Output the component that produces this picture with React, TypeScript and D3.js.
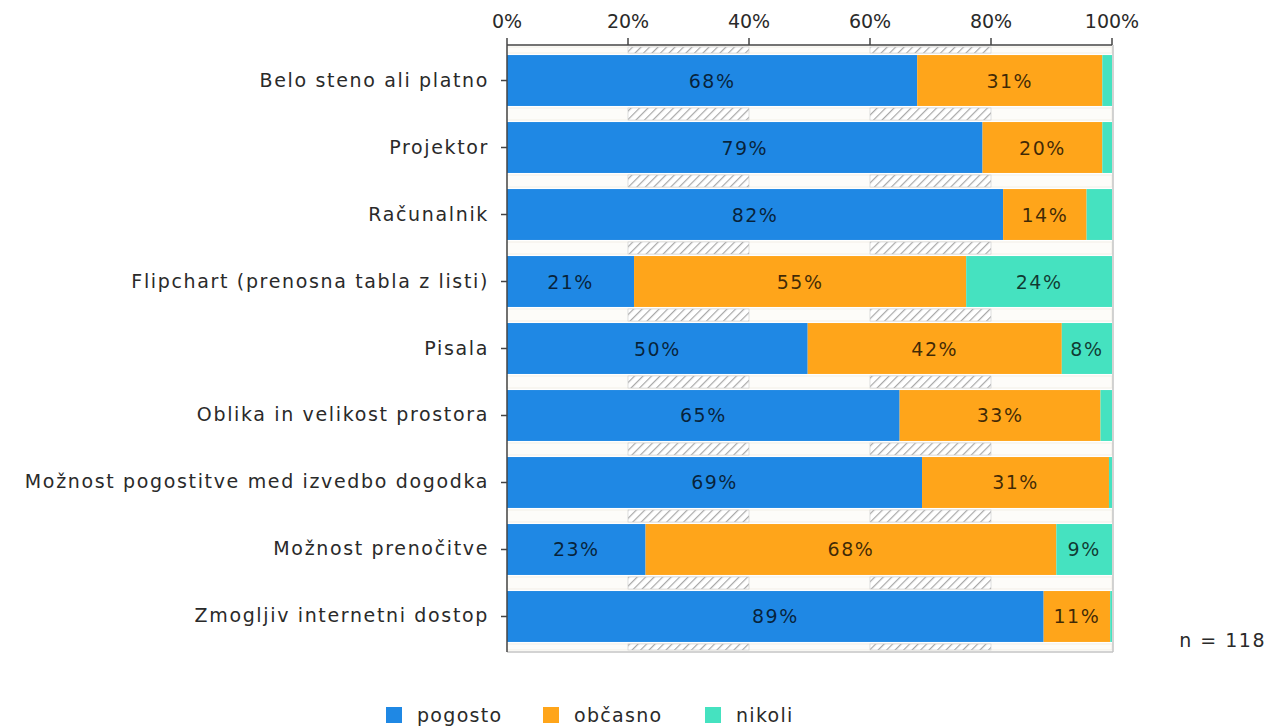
import { scaleBand, scaleLinear } from "d3";

// categories and the three answer series (percent of n = 118)
const categories = [
  "Belo steno ali platno",
  "Projektor",
  "Računalnik",
  "Flipchart (prenosna tabla z listi)",
  "Pisala",
  "Oblika in velikost prostora",
  "Možnost pogostitve med izvedbo dogodka",
  "Možnost prenočitve",
  "Zmogljiv internetni dostop",
];
const pogosto = [67.8, 78.6, 82.0, 21.0, 49.7, 64.9, 68.6, 22.9, 88.7];
const obcasno = [30.6, 19.8, 13.8, 54.9, 42.0, 33.2, 30.9, 67.9, 11.0];
const nikoli = [1.6, 1.6, 4.2, 24.1, 8.3, 1.9, 0.5, 9.2, 0.3];

const seriesNames = ["pogosto", "občasno", "nikoli"];
const seriesColors = ["#1f88e4", "#ffa51a", "#45e2c0"];
const ticks = [0, 20, 40, 60, 80, 100];
const hatchBands = [
  [20, 40],
  [60, 80],
];

const FONT = "'DejaVu Sans', Verdana, sans-serif";

export default function App() {
  const left = 507;
  const right = 1112;
  const top = 45;
  const bottom = 652;

  const x = scaleLinear().domain([0, 100]).range([left, right]);
  const y = scaleBand()
    .domain(categories)
    .range([top, bottom])
    .paddingInner(0.24)
    .paddingOuter(0.15);

  const bw = y.bandwidth();
  const step = y.step();
  const series = [pogosto, obcasno, nikoli];

  // gap strips: one above each bar plus one below the last
  const gapTops = categories.map((c) => (y(c) as number) - (step - bw));
  gapTops[0] = top;
  gapTops.push((y(categories[categories.length - 1]) as number) + bw);
  const gapH = (i: number) =>
    i === 0 ? (y(categories[0]) as number) - top : i === categories.length ? bottom - gapTops[i] : step - bw;

  return (
    <svg
      width={1274}
      height={728}
      style={{ position: "absolute", left: 0, top: 0, fontFamily: FONT }}
    >
      <defs>
        <pattern id="hatch" width="6" height="6" patternUnits="userSpaceOnUse" patternTransform="rotate(45)">
          <rect width="6" height="6" fill="#fff" />
          <line x1="0" y1="0" x2="0" y2="6" stroke="#a8a8a8" strokeWidth="2.4" />
        </pattern>
      </defs>
      <rect width={1274} height={728} fill="#fff" />

      {/* gap strips */}
      {gapTops.map((gt, i) => (
        <g key={"gap" + i}>
          <rect x={left} y={gt + 2} width={right - left} height={Math.max(gapH(i) - 4, 0)} fill="#fdfcf9" stroke="#eeeae0" strokeWidth={0.8} />
          {hatchBands.map(([a, b]) => (
            <rect
              key={a}
              x={x(a)}
              y={gt + 2}
              width={x(b) - x(a)}
              height={Math.max(gapH(i) - 4, 0)}
              fill="url(#hatch)"
              stroke="#c8c8c8"
              strokeWidth={0.6}
            />
          ))}
        </g>
      ))}

      {/* bars */}
      {categories.map((c, i) => {
        let acc = 0;
        return (
          <g key={c}>
            {series.map((s, k) => {
              const v = s[i];
              const x0 = x(acc);
              acc += v;
              const x1 = x(acc);
              const r = Math.round(v);
              return (
                <g key={k}>
                  <rect x={x0} y={y(c)} width={Math.max(x1 - x0, 0)} height={bw} fill={seriesColors[k]} />
                  {r >= 5 && (
                    <text
                      x={(x0 + x1) / 2}
                      y={(y(c) as number) + bw / 2 + 7}
                      textAnchor="middle"
                      fontSize={19}
                      letterSpacing={1.5}
                      fill="#000"
                      fillOpacity={0.75}
                    >
                      {r}%
                    </text>
                  )}
                </g>
              );
            })}
          </g>
        );
      })}

      {/* plot border right / bottom */}
      <line x1={right + 1} x2={right + 1} y1={top} y2={bottom} stroke="#c4c4c4" strokeWidth={1.5} />
      <line x1={left} x2={right + 1} y1={bottom} y2={bottom} stroke="#c4c4c4" strokeWidth={1.5} />

      {/* top axis */}
      <line x1={left} x2={right} y1={top} y2={top} stroke="#444" strokeWidth={1.5} />
      {ticks.map((t) => (
        <g key={t}>
          <line x1={x(t)} x2={x(t)} y1={top - 7} y2={top} stroke="#444" strokeWidth={1.5} />
          <text x={x(t)} y={28} textAnchor="middle" fontSize={19} fill="#2a2a2a">
            {t}%
          </text>
        </g>
      ))}

      {/* left axis */}
      <line x1={left} x2={left} y1={top} y2={bottom} stroke="#444" strokeWidth={1.5} />
      {categories.map((c) => {
        const cy = (y(c) as number) + bw / 2;
        return (
          <g key={"l" + c}>
            <line x1={left - 6} x2={left} y1={cy} y2={cy} stroke="#444" strokeWidth={1.5} />
            <text x={489} y={cy + 6} textAnchor="end" fontSize={19} letterSpacing={1.65} fill="#2a2a2a">
              {c}
            </text>
          </g>
        );
      })}

      <text x={1266} y={647} textAnchor="end" fontSize={19} letterSpacing={1.5} fill="#2a2a2a">
        n = 118
      </text>

      {/* legend */}
      {seriesNames.map((n, i) => {
        const sx = [386, 543, 705][i];
        return (
          <g key={n}>
            <rect x={sx} y={707} width={16} height={16} fill={seriesColors[i]} />
            <text x={sx + 31} y={722} fontSize={19} letterSpacing={1.3} fill="#2a2a2a">
              {n}
            </text>
          </g>
        );
      })}
    </svg>
  );
}
